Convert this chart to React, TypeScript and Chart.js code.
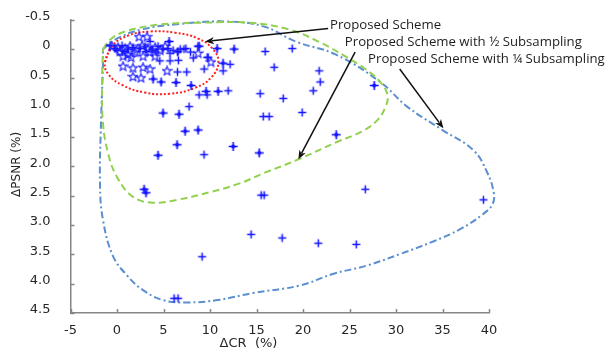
import { useEffect, useRef } from 'react';
import { Chart, registerables } from 'chart.js';

Chart.register(...registerables);

// ---------- axes ----------
const X_MIN = -5;
const X_MAX = 40;
const X_STEP = 5;
const Y_MIN = -0.5;
const Y_MAX = 4.5;
const Y_STEP = 0.5;
const X_TITLE = 'ΔCR  (%)';
const Y_TITLE = 'ΔPSNR (%)';

// ---------- Proposed Scheme (stars) ----------
const schemeX = [2.37, 3.23, -0.54, 0.11, 0.86, 1.4, 2.15, 2.69, 3.34, 4.09, 4.63, 5.17, 0.32, 1.94, 3.55, 1.18, 0.65, 1.51, 2.8, 4.09, 8.72, 10.1, 0.65, 1.72, 2.8, 3.55, 5.38, 1.72, 2.58];
const schemeY = [-0.21, -0.21, -0.05, -0.03, -0.01, -0.05, 0.0, -0.06, -0.01, -0.03, 0.02, -0.05, 0.04, 0.05, 0.05, 0.09, 0.12, 0.14, 0.12, 0.12, 0.07, 0.22, 0.29, 0.32, 0.31, 0.34, 0.37, 0.47, 0.49];

// ---------- Proposed Scheme with 1/2 subsampling ----------
const halfX = [3.88, 4.74, 6.35, 7.97, 4.95, 6.67, 7.32, 8.72, 6.46, 4.41, 12.49, 15.29, 23.57, 27.66, 2.91, 3.12, 8.83, 10.76, 12.59, 11.4, 9.58, 10.87, 5.6];
const halfY = [0.51, 0.56, 0.57, 0.62, 1.09, 1.11, 1.4, 1.38, 1.63, 1.81, 1.66, 1.77, 1.46, 0.62, 2.39, 2.45, -0.05, -0.01, 0.0, 0.24, 0.72, 0.72, -0.13];

// ---------- Proposed Scheme with 1/4 subsampling ----------
const quarterX = [15.93, 18.84, 12.16, 9.8, 9.37, 11.41, 16.9, 21.74, 21.85, 21.1, 15.39, 17.87, 11.95, 8.83, 9.69, 7.75, 15.72, 16.36, 19.91, 9.36, 15.5, 15.82, 26.7, 39.4, 14.42, 17.76, 21.64, 25.73, 9.15, 6.14, 6.57,
  -0.75, -0.22, 0.54, 1.18, 1.72, 2.48, 3.01, 3.77, 4.41, 4.95, 5.49, 6.03, 6.57, 0.0, 0.86, 3.12, 4.2, 5.7, 6.8, 7.4, 7.9, 3.55, 7.2, 8.7, 8.2, 9.7, 4.6, 5.7, 6.6, 6.5, 6.5, 7.5];
const quarterY = [0.04, -0.01, 0.26, 0.14, 0.34, 0.37, 0.31, 0.37, 0.56, 0.71, 0.76, 0.84, 0.71, 0.78, 0.78, 0.98, 1.15, 1.15, 1.08, 1.8, 2.49, 2.49, 2.39, 2.57, 3.16, 3.22, 3.31, 3.33, 3.54, 4.25, 4.25,
  -0.06, -0.01, -0.06, 0.0, -0.03, -0.01, -0.05, 0.0, -0.05, 0.0, -0.01, 0.02, 0.04, 0.02, 0.04, 0.04, 0.05, 0.07, 0.0, -0.01, 0.05, -0.13, 0.0, -0.05, 0.15, 0.14, 0.2, 0.2, 0.19, 0.05, 0.39, 0.39];

// ---------- hand-drawn envelopes ----------
const ellipseX = [-1.29, -0.54, 1.18, 3.55, 6.24, 8.72, 10.3, 10.9, 10.2, 8.4, 5.7, 3.0, 0.54, -0.97, -1.29, -0.54];
const ellipseY = [0.22, -0.05, -0.23, -0.3, -0.28, -0.18, 0.0, 0.22, 0.47, 0.66, 0.76, 0.74, 0.61, 0.42, 0.22, -0.05];

const halfHullX = [-1.51, -0.75, 0.86, 4.63, 8.93, 14.3, 18.6, 21.9, 24.5, 26.7, 28.3, 29.1, 28.8, 28.0, 26.4, 23.7, 19.5, 15.7, 13.2, 10.0, 6.46, 3.88, 1.72, 0.0, -0.97, -1.51, -1.61, -1.51];
const halfHullY = [0.0, -0.16, -0.3, -0.42, -0.45, -0.45, -0.33, -0.11, 0.12, 0.34, 0.56, 0.79, 1.01, 1.21, 1.4, 1.58, 1.88, 2.12, 2.29, 2.44, 2.57, 2.62, 2.52, 2.18, 1.77, 1.26, 0.59, 0.0];

const quarterHullX = [-1.51, -0.22, 2.48, 6.78, 12.2, 15.9, 19.2, 23.5, 28.3, 31.2, 35.0, 38.3, 39.8, 40.5, 40.4, 39.3, 36.9, 34.0, 30.5, 26.9, 23.3, 19.7, 14.6, 10.8, 7.5, 4.95, 2.8, 1.08, -0.43, -1.51, -1.83, -1.72, -1.51, -1.51];
const quarterHullY = [0.0, -0.16, -0.33, -0.43, -0.47, -0.38, -0.13, 0.09, 0.56, 0.98, 1.38, 1.72, 2.1, 2.44, 2.64, 2.82, 3.07, 3.28, 3.49, 3.69, 3.83, 4.03, 4.16, 4.28, 4.32, 4.28, 4.11, 3.86, 3.53, 2.91, 2.3, 1.26, 0.26, 0.0];

// ---------- annotations ----------
const noteTexts = ['Proposed Scheme', 'Proposed Scheme with ½ Subsampling', 'Proposed Scheme with ¼ Subsampling'];
const noteTextX = [22.9, 24.5, 27.0];
const noteTextY = [-0.4, -0.11, 0.17];
const arrowFromX = [22.7, 25.6, 30.4];
const arrowFromY = [-0.35, 0.05, 0.34];
const arrowToX = [9.47, 19.5, 35.1];
const arrowToY = [-0.13, 1.88, 1.35];

const MARK = '#1414ff';

const toPts = (xs: number[], ys: number[]) => xs.map((x, i) => ({ x, y: ys[i] }));

function makeStar(): HTMLCanvasElement {
  const c = document.createElement('canvas');
  c.width = 11;
  c.height = 11;
  const g = c.getContext('2d')!;
  g.strokeStyle = MARK;
  g.lineWidth = 1.1;
  g.beginPath();
  for (let i = 0; i < 10; i++) {
    const r = i % 2 === 0 ? 4.7 : 2.0;
    const a = -Math.PI / 2 + (i * Math.PI) / 5;
    const px = 5.5 + r * Math.cos(a);
    const py = 5.8 + r * Math.sin(a);
    if (i === 0) g.moveTo(px, py);
    else g.lineTo(px, py);
  }
  g.closePath();
  g.stroke();
  return c;
}

function makeDiamondPlus(): HTMLCanvasElement {
  const c = document.createElement('canvas');
  c.width = 11;
  c.height = 11;
  const g = c.getContext('2d')!;
  g.strokeStyle = MARK;
  g.fillStyle = MARK;
  g.lineWidth = 1.6;
  g.beginPath();
  g.moveTo(1, 5.5);
  g.lineTo(10, 5.5);
  g.moveTo(5.5, 1);
  g.lineTo(5.5, 10);
  g.stroke();
  g.beginPath();
  g.moveTo(5.5, 2.8);
  g.lineTo(8.2, 5.5);
  g.lineTo(5.5, 8.2);
  g.lineTo(2.8, 5.5);
  g.closePath();
  g.fill();
  return c;
}

function makePlus(): HTMLCanvasElement {
  const c = document.createElement('canvas');
  c.width = 11;
  c.height = 11;
  const g = c.getContext('2d')!;
  g.strokeStyle = MARK;
  g.lineWidth = 1.5;
  g.beginPath();
  g.moveTo(1.5, 5.5);
  g.lineTo(9.5, 5.5);
  g.moveTo(5.5, 1.5);
  g.lineTo(5.5, 9.5);
  g.stroke();
  return c;
}

const decorPlugin = {
  id: 'decor',
  afterDatasetsDraw(chart: any) {
    const { ctx, chartArea, scales } = chart;
    const xs = scales.x;
    const ys = scales.y;
    ctx.save();
    // inward tick marks
    ctx.strokeStyle = '#868686';
    ctx.lineWidth = 1.5;
    ctx.setLineDash([]);
    ctx.beginPath();
    xs.ticks.forEach((t: any) => {
      const px = Math.round(xs.getPixelForValue(t.value)) + 0.5;
      ctx.moveTo(px, chartArea.bottom);
      ctx.lineTo(px, chartArea.bottom - 4);
    });
    ys.ticks.forEach((t: any) => {
      const py = Math.round(ys.getPixelForValue(t.value)) + 0.5;
      ctx.moveTo(chartArea.left, py);
      ctx.lineTo(chartArea.left + 4, py);
    });
    ctx.stroke();

    // arrows
    ctx.strokeStyle = '#111';
    ctx.fillStyle = '#111';
    ctx.lineWidth = 1.5;
    for (let i = 0; i < arrowFromX.length; i++) {
      const x1 = xs.getPixelForValue(arrowFromX[i]);
      const y1 = ys.getPixelForValue(arrowFromY[i]);
      const x2 = xs.getPixelForValue(arrowToX[i]);
      const y2 = ys.getPixelForValue(arrowToY[i]);
      const a = Math.atan2(y2 - y1, x2 - x1);
      const L = 9;
      const W = 3.6;
      const bx = x2 - L * Math.cos(a);
      const by = y2 - L * Math.sin(a);
      ctx.beginPath();
      ctx.moveTo(x1, y1);
      ctx.lineTo(bx + 2 * Math.cos(a), by + 2 * Math.sin(a));
      ctx.stroke();
      ctx.beginPath();
      ctx.moveTo(x2, y2);
      ctx.lineTo(bx + W * Math.sin(a), by - W * Math.cos(a));
      ctx.lineTo(bx + 2.5 * Math.cos(a), by + 2.5 * Math.sin(a));
      ctx.lineTo(bx - W * Math.sin(a), by + W * Math.cos(a));
      ctx.closePath();
      ctx.fill();
    }

    // annotation texts
    ctx.fillStyle = '#1e1e1e';
    ctx.textAlign = 'left';
    ctx.textBaseline = 'middle';
    ctx.font = "13.2px 'Open Sans'";
    for (let i = 0; i < noteTexts.length; i++) {
      ctx.fillText(noteTexts[i], xs.getPixelForValue(noteTextX[i]), ys.getPixelForValue(noteTextY[i]));
    }

    // axis titles
    ctx.fillStyle = '#262626';
    ctx.font = "13px 'DejaVu Sans'";
    ctx.textAlign = 'center';
    ctx.fillText(X_TITLE, chartArea.left + 178, chartArea.bottom + 31);
    ctx.save();
    ctx.translate(17, (chartArea.top + chartArea.bottom) / 2 - 2);
    ctx.rotate(-Math.PI / 2);
    ctx.font = "12px 'DejaVu Sans'";
    ctx.fillText(Y_TITLE, 0, 0);
    ctx.restore();
    ctx.restore();
  },
};

export default function App() {
  const ref = useRef<HTMLCanvasElement | null>(null);

  useEffect(() => {
    document.body.style.margin = '0';
    const canvas = ref.current;
    if (!canvas) return;
    const star = makeStar();
    const dplus = makeDiamondPlus();
    const plus = makePlus();
    const tickFont = { family: "'DejaVu Sans'", size: 13 };

    const chart = new Chart(canvas, {
      type: 'scatter',
      data: {
        datasets: [
          {
            label: 'Proposed Scheme',
            data: toPts(schemeX, schemeY),
            pointStyle: star as any,
            pointRadius: 5,
            showLine: false,
          },
          {
            label: 'Proposed Scheme with ½ Subsampling',
            data: toPts(halfX, halfY),
            pointStyle: dplus as any,
            pointRadius: 5,
            showLine: false,
          },
          {
            label: 'Proposed Scheme with ¼ Subsampling',
            data: toPts(quarterX, quarterY),
            pointStyle: plus as any,
            pointRadius: 5,
            showLine: false,
            clip: false as any,
          },
          {
            label: 'scheme envelope',
            data: toPts(ellipseX, ellipseY),
            showLine: true,
            pointRadius: 0,
            borderColor: '#ff2020',
            borderWidth: 2,
            borderDash: [2, 2],
            tension: 0.45,
            fill: false,
          },
          {
            label: 'half envelope',
            data: toPts(halfHullX, halfHullY),
            showLine: true,
            pointRadius: 0,
            borderColor: '#92d050',
            borderWidth: 2,
            borderDash: [7, 4],
            tension: 0.4,
            fill: false,
            clip: false as any,
          },
          {
            label: 'quarter envelope',
            data: toPts(quarterHullX, quarterHullY),
            showLine: true,
            pointRadius: 0,
            borderColor: '#5b8fd0',
            borderWidth: 2,
            borderDash: [7, 3, 2, 3],
            tension: 0.4,
            fill: false,
            clip: false as any,
          },
        ],
      },
      options: {
        responsive: false,
        animation: false,
        devicePixelRatio: 1,
        layout: { padding: { left: 0, top: 15, right: 122, bottom: 0 } },
        plugins: { legend: { display: false }, tooltip: { enabled: false } },
        scales: {
          x: {
            type: 'linear',
            min: X_MIN,
            max: X_MAX,
            ticks: { stepSize: X_STEP, color: '#262626', font: tickFont, padding: 2 },
            grid: { display: false },
            border: { display: true, color: '#868686', width: 1.5 },
            afterFit: (s: any) => {
              s.height = 41;
            },
          },
          y: {
            type: 'linear',
            reverse: true,
            min: Y_MIN,
            max: Y_MAX,
            ticks: { stepSize: Y_STEP, color: '#262626', font: tickFont, padding: 12, labelOffset: -3 },
            grid: { display: false },
            border: { display: true, color: '#868686', width: 1.5 },
            afterFit: (s: any) => {
              s.width = 70.5;
            },
          },
        },
      },
      plugins: [decorPlugin],
    });
    return () => chart.destroy();
  }, []);

  return (
    <div style={{ position: 'absolute', left: 0, top: 0, width: 611, height: 354 }}>
      <canvas ref={ref} width={611} height={354} />
    </div>
  );
}
